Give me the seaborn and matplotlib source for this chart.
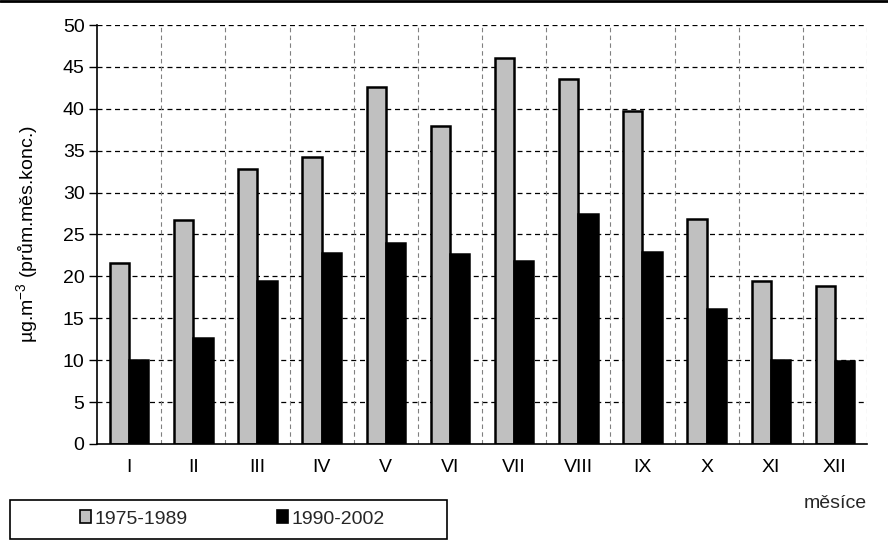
import matplotlib
matplotlib.use("Agg")
import matplotlib.pyplot as plt
import seaborn as sns
import pandas as pd
from matplotlib.lines import Line2D
from matplotlib.patches import Rectangle, Patch

months = ["I", "II", "III", "IV", "V", "VI", "VII", "VIII", "IX", "X", "XI", "XII"]
series_names = ["1975-1989", "1990-2002"]
vals_1975_1989 = [21.6, 26.7, 32.8, 34.2, 42.6, 37.9, 46.1, 43.5, 39.7, 26.8, 19.4, 18.8]
vals_1990_2002 = [10.0, 12.6, 19.4, 22.8, 24.0, 22.7, 21.8, 27.4, 22.9, 16.1, 10.0, 9.9]
yticks = [0, 5, 10, 15, 20, 25, 30, 35, 40, 45, 50]

sns.set_theme(style="white")
plt.rcParams["font.family"] = ["Liberation Sans", "DejaVu Sans"]
plt.rcParams["mathtext.default"] = "regular"
FS = 14
plt.rcParams["font.size"] = FS

df = pd.DataFrame({
    "month": months * 2,
    "value": vals_1975_1989 + vals_1990_2002,
    "period": [series_names[0]] * 12 + [series_names[1]] * 12,
})

fig = plt.figure(figsize=(8.88, 5.48), dpi=100)
ax = fig.add_axes([97 / 888, 104 / 548, 770 / 888, 419 / 548])

colors = ["#c0c0c0", "#000000"]
sns.barplot(data=df, x="month", y="value", hue="period", order=months,
            hue_order=series_names, palette=colors, width=0.6,
            edgecolor="black", linewidth=1.8, saturation=1, ax=ax, legend=False)

ax.set_xlim(-0.5, 11.5)
ax.set_ylim(0, 50)
ax.set_yticks(yticks)
ax.set_yticklabels([str(v) for v in yticks], fontsize=FS, color="black")
ax.set_xticks(range(12))
ax.set_xticklabels(months, fontsize=FS, color="black")
ax.set_xticks([i + 0.5 for i in range(-1, 12)], minor=True)
ax.tick_params(axis="x", which="major", length=0, pad=11)
ax.tick_params(axis="x", which="minor", length=6, width=1, color="black", direction="out")
ax.tick_params(axis="y", which="major", length=6, width=1, color="black", direction="out", pad=3, left=True)

# gridlines
for v in yticks[1:]:
    ax.axhline(v, color="black", linestyle=(0, (4, 3)), linewidth=0.9, zorder=0)
for i in range(12):
    ax.axvline(i + 0.5, color="#808080", linestyle=(0, (4, 3)), linewidth=0.8, zorder=0)

for s in ["top", "right"]:
    ax.spines[s].set_visible(False)
for s in ["left", "bottom"]:
    ax.spines[s].set_color("black")
    ax.spines[s].set_linewidth(1.2)

ax.set_xlabel("")
ax.set_ylabel("µg.m$^{-3}$ (prům.měs.konc.)", fontsize=FS, color="black", labelpad=16)

fig.text(835 / 888, 1 - 503 / 548, "měsíce", ha="center", va="center", fontsize=FS)

# top border line
fig.add_artist(Line2D([0, 1], [1 - 1 / 548, 1 - 1 / 548], color="black", linewidth=2,
                      transform=fig.transFigure))

# legend box
fig.add_artist(Rectangle((10 / 888, 1 - 539 / 548), 437 / 888, 39 / 548,
                         transform=fig.transFigure, fill=False, edgecolor="black", linewidth=1.2))
handles = [Patch(facecolor=colors[0], edgecolor="black", linewidth=1.2, label=series_names[0]),
           Patch(facecolor=colors[1], edgecolor="black", linewidth=1.2, label=series_names[1])]
fig.legend(handles=handles, loc="center", bbox_to_anchor=(232 / 888, 1 - 519 / 548),
           ncol=2, frameon=False, handlelength=0.6, handleheight=0.6, handletextpad=0.15,
           columnspacing=4.6, fontsize=FS)

fig.savefig("out.png", dpi=100)
